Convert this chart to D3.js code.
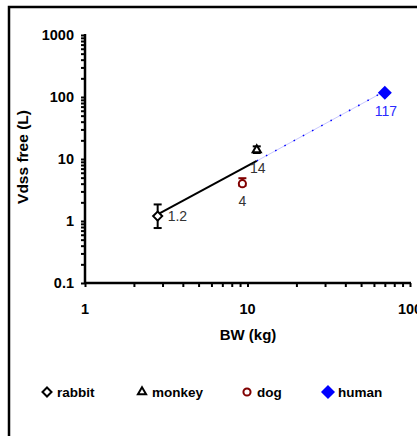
<!DOCTYPE html>
<html>
<head>
<meta charset="utf-8">
<script src="https://cdn.jsdelivr.net/npm/d3@7"></script>
<style>
  html, body { margin: 0; padding: 0; background: #fff; }
  svg { display: block; }
  text { font-family: Arial, "Liberation Sans", sans-serif; }
</style>
</head>
<body>
<svg id="chart" width="417" height="436"></svg>
<script>
// Species, body weight (kg) and free volume of distribution (L)
const species = ["rabbit", "monkey", "dog", "human"];
const bodyWeight = [2.8, 11.4, 9.3, 70];
const vdssFree = [1.2, 14, 4, 117];
const errLow = [0.77, 12.5, 3.7, null];
const errHigh = [1.85, 16, 4.9, null];
const valueLabels = ["1.2", "14", "4", "117"];

// Fitted allometric line across the animal species and its extrapolation to human
const fitBW = [2.8, 11.4];
const fitV = [1.28, 9.3];
const extBW = [11.4, 70];
const extV = [9.3, 124];

const yTicks = [0.1, 1, 10, 100, 1000];
const xTicks = [1, 10, 100];

const svg = d3.select("#chart");

// outer frame
svg.append("path")
  .attr("d", "M9,436 V7 H417")
  .attr("fill", "none").attr("stroke", "#000").attr("stroke-width", 2.5);

const x = d3.scaleLog().domain([1, 100]).range([85, 410]);
const y = d3.scaleLog().domain([0.1, 1000]).range([283, 35]);

// minor tick values for log axes
const xMinor = [];
for (let d = 1; d < 100; d *= 10) for (let k = 1; k <= 10; k++) xMinor.push(d * k);
const yMinor = [];
for (let d = 0.1; d < 999; d *= 10) for (let k = 1; k <= 10; k++) yMinor.push(+(d * k).toPrecision(3));

const xAxis = svg.append("g").attr("transform", "translate(0,283)")
  .call(d3.axisBottom(x).tickValues([...new Set(xMinor)]).tickSize(4).tickFormat(""));
const yAxis = svg.append("g").attr("transform", "translate(85,0)")
  .call(d3.axisLeft(y).tickValues([...new Set(yMinor)]).tickSize(4).tickFormat(""));
[xAxis, yAxis].forEach(g => {
  g.select(".domain").attr("stroke", "#000").attr("stroke-width", 2.5);
  g.selectAll(".tick line").attr("stroke", "#000").attr("stroke-width", 2);
});
xAxis.select(".domain").attr("d", "M85,0H411");
yAxis.select(".domain").attr("d", "M0,284V34");

// major tick labels
svg.append("g").selectAll("text").data(yTicks).join("text")
  .attr("x", 74).attr("y", d => y(d) + 5)
  .attr("text-anchor", "end").attr("font-size", 14.5).attr("font-weight", "bold")
  .text(d => d3.format("~g")(d));
svg.append("g").selectAll("text").data(xTicks).join("text")
  .attr("x", d => x(d)).attr("y", 314)
  .attr("text-anchor", "middle").attr("font-size", 14.5).attr("font-weight", "bold")
  .text(d => d);

// axis titles
svg.append("text").attr("x", 248).attr("y", 340)
  .attr("text-anchor", "middle").attr("font-size", 15).attr("font-weight", "bold")
  .text("BW (kg)");
svg.append("text").attr("transform", "translate(28,157) rotate(-90)")
  .attr("text-anchor", "middle").attr("font-size", 15.5).attr("font-weight", "bold")
  .text("Vdss free (L)");

const line = d3.line().x(d => x(d[0])).y(d => y(d[1]));

// extrapolation to human: faint line with blue dots
const ext = d3.zip(extBW, extV);
svg.append("path").attr("d", line(ext)).attr("fill", "none")
  .attr("stroke", "#c8c8ff").attr("stroke-width", 1);
svg.append("path").attr("d", line(ext)).attr("fill", "none")
  .attr("stroke", "#0000ff").attr("stroke-width", 1.5).attr("stroke-dasharray", "1.5,9");

// fitted line through animal species
svg.append("path").attr("d", line(d3.zip(fitBW, fitV))).attr("fill", "none")
  .attr("stroke", "#000").attr("stroke-width", 2);

const colors = { rabbit: "#000", monkey: "#000", dog: "#800000", human: "#0000ff" };
const symbols = {
  rabbit: { type: d3.symbolDiamond2, size: 52, fill: "#fff" },
  monkey: { type: d3.symbolTriangle2, size: 48, fill: "#fff" },
  dog: { type: d3.symbolCircle, size: 40, fill: "#fff" },
  human: { type: d3.symbolDiamond2, size: 80, fill: "#0000ff" }
};

const pts = species.map((s, i) => ({
  s, bw: bodyWeight[i], v: vdssFree[i], lo: errLow[i], hi: errHigh[i], label: valueLabels[i]
}));

// error bars
pts.filter(d => d.lo != null).forEach(d => {
  const cx = x(d.bw), c = colors[d.s];
  const g = svg.append("g").attr("stroke", c).attr("stroke-width", 2);
  g.append("line").attr("x1", cx).attr("x2", cx).attr("y1", y(d.hi)).attr("y2", y(d.lo));
  g.append("line").attr("x1", cx - 4).attr("x2", cx + 4).attr("y1", y(d.hi)).attr("y2", y(d.hi));
  g.append("line").attr("x1", cx - 4).attr("x2", cx + 4).attr("y1", y(d.lo)).attr("y2", y(d.lo));
});

// markers
svg.append("g").selectAll("path").data(pts).join("path")
  .attr("transform", d => `translate(${x(d.bw)},${y(d.v)})`)
  .attr("d", d => d3.symbol().type(symbols[d.s].type).size(symbols[d.s].size)())
  .attr("fill", d => symbols[d.s].fill)
  .attr("stroke", d => colors[d.s]).attr("stroke-width", 2);

// value labels
const labelPos = {
  rabbit: { dx: 10, dy: 5, anchor: "start", color: "#333" },
  monkey: { dx: 1, dy: 23, anchor: "middle", color: "#333" },
  dog: { dx: 0, dy: 22, anchor: "middle", color: "#333" },
  human: { dx: 1, dy: 23, anchor: "middle", color: "#2a2aff" }
};
svg.append("g").selectAll("text").data(pts).join("text")
  .attr("x", d => x(d.bw) + labelPos[d.s].dx)
  .attr("y", d => y(d.v) + labelPos[d.s].dy)
  .attr("text-anchor", d => labelPos[d.s].anchor)
  .attr("fill", d => labelPos[d.s].color)
  .attr("font-size", 14)
  .text(d => d.label);

// legend
const legendX = [47, 142, 247, 328];
const lg = svg.append("g").selectAll("g").data(species).join("g")
  .attr("transform", (d, i) => `translate(${legendX[i]},392)`);
lg.append("path")
  .attr("d", d => d3.symbol().type(symbols[d].type).size(symbols[d].size)())
  .attr("fill", d => symbols[d].fill)
  .attr("stroke", d => colors[d]).attr("stroke-width", 2);
lg.append("text").attr("x", 10).attr("y", 5)
  .attr("font-size", 13.5).attr("font-weight", "bold").attr("fill", "#000")
  .text(d => d);
</script>
</body>
</html>
